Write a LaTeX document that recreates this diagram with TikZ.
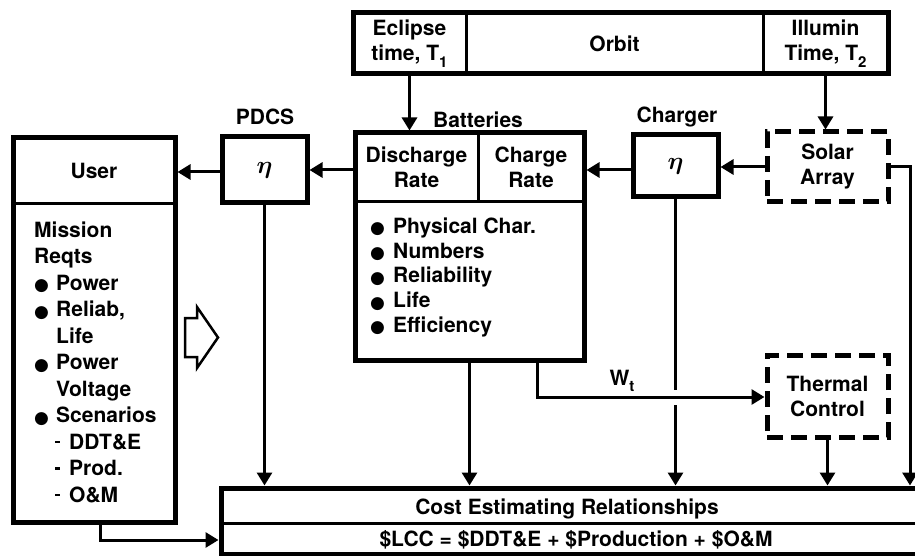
\documentclass[tikz,border=0pt]{standalone}
\usepackage{fontspec}
\setmainfont{TeX Gyre Heros}
\newfontfamily\symfont{DejaVu Sans}
\usetikzlibrary{arrows.meta,fit}
\newcommand\mysub[1]{\raisebox{-0.32em}{\fontsize{15}{15}\selectfont #1}}
\newcommand\mybul[1][22pt]{\makebox[#1][l]{\raisebox{-0.5pt}{\symfont\fontsize{17}{17}\selectfont ●}}}
\newcommand\mydash{\hspace*{21pt}\makebox[14pt][l]{\rule[6pt]{5pt}{2.5pt}}}
\newcommand\myind{\hspace*{22pt}}
\begin{document}
\begin{tikzpicture}[x=1pt,y=-1pt,
  every node/.style={font=\fontsize{21}{25}\selectfont\bfseries, inner sep=0pt},
  cellbox/.style={draw, line width=3pt, outer sep=0pt, align=center},
  framebox/.style={draw, line width=5pt, inner sep=0pt, align=center},
  dashbox/.style={draw, line width=5pt, dash pattern=on 16pt off 8pt, inner sep=0pt, align=center},
  conn/.style={line width=3pt, -{Triangle[length=13pt,width=15pt]}},
  plain/.style={line width=3pt},
  etafont/.style={font=\fontsize{24}{24}\selectfont\boldmath}
]
\useasboundingbox (0,0) rectangle (915,556);

% Orbit
\node[cellbox, minimum width=113pt, minimum height=61pt] (ecl) at (409.5,43.5) {Eclipse\\time, T\mysub{1}};
\node[cellbox, minimum width=297pt, minimum height=61pt] (orb) at (614.5,43.5) {Orbit};
\node[cellbox, minimum width=125pt, minimum height=61pt] (ill) at (825.5,43.5) {Illumin\\Time, T\mysub{2}};
\node[framebox, fit=(ecl)(ill)] (orbit) {};

% Batteries
\node (lbat) [anchor=base] at (478,128) {Batteries};
\node[cellbox, minimum width=123pt, minimum height=69pt] (dis) at (416.5,167.5) {Discharge\\Rate};
\node[cellbox, minimum width=106pt, minimum height=69pt] (chr) at (531,167.5) {Charge\\Rate};
\node[cellbox, minimum width=229pt, minimum height=158pt] (bbody) at (469.5,281) {};
\node[framebox, fit=(dis)(chr)(bbody)] (bat) {};
\node[anchor=north west, align=left, font=\fontsize{21}{24.75}\selectfont\bfseries] (btxt) at (370,217.5)
 {\mybul[23pt]Physical Char.\\\mybul[23pt]Numbers\\\mybul[23pt]Reliability\\\mybul[23pt]Life\\\mybul[23pt]Efficiency};

% User
\node[cellbox, minimum width=162pt, minimum height=66pt] (uhead) at (94,171) {User};
\node[cellbox, minimum width=162pt, minimum height=318pt] (ubody) at (94,363) {};
\node[framebox, fit=(uhead)(ubody)] (user) {};
\node[anchor=north west, align=left, font=\fontsize{21}{26.5}\selectfont\bfseries] (utxt) at (34,221.5)
 {Mission\\Reqts\\\mybul Power\\\mybul Reliab,\\\myind Life\\\mybul Power\\\myind Voltage\\\mybul Scenarios\\\mydash DDT\&E\\\mydash Prod.\\\mydash O\&M};

% PDCS
\node (lpdcs) [anchor=base] at (265,125) {PDCS};
\node[framebox, etafont, minimum width=85pt, minimum height=66pt] (pdcs) at (264.5,170) {$\eta$};

% Charger
\node (lchg) [anchor=base] at (677,123) {Charger};
\node[framebox, etafont, minimum width=85pt, minimum height=62pt] (chg) at (675.5,166) {$\eta$};

% Solar array and thermal control
\node[dashbox, minimum width=121pt, minimum height=70pt] (sol) at (827.5,167) {Solar\\Array};
\node[dashbox, minimum width=121pt, minimum height=82pt] (therm) at (827.5,396) {Thermal\\Control};

% Cost
\node[cellbox, minimum width=699pt, minimum height=35pt] (crow1) at (570.5,505.5) {};
\node[cellbox, minimum width=699pt, minimum height=31pt] (crow2) at (570.5,538.5) {};
\node[framebox, fit=(crow1)(crow2)] (cost) {};
\node (ct1) [anchor=base] at (567,514) {Cost Estimating Relationships};
\node (ct2) [anchor=base] at (576,546) {\$LCC = \$DDT\&E + \$Production + \$O\&M};

% Hollow arrow
\draw[line width=2.5pt, line join=miter] (185,318) -- (197,318) -- (197,307) -- (218,337.5) -- (197,368) -- (197,357) -- (185,357) -- cycle;

% Connectors
\draw[conn] (ecl.south) -- (ecl.south |- bat.north);
\draw[conn] (ill.south) -- (ill.south |- sol.north);
\draw[conn] (sol.west) -- (sol.west -| chg.east);
\draw[conn] (chg.west |- 0,170) -- (bat.east |- 0,170);
\draw[conn] (bat.west |- pdcs.east) -- (pdcs.east);
\draw[conn] (pdcs.west |- 0,172) -- (user.east |- 0,172);
\coordinate (rr) at (910,167);
\draw[conn] (sol.east) -- (rr) -- (rr |- cost.north);
\draw[conn] (pdcs.south) -- (pdcs.south |- cost.north);
\draw[conn] (bat.south) -- (bat.south |- cost.north);
\coordinate (gapA) at (675.5,390);
\coordinate (gapB) at (675.5,405);
\draw[plain] (chg.south) -- (gapA);
\draw[conn] (gapB) -- (gapB |- cost.north);
\coordinate (wtc) at (537,397);
\draw[conn] (bat.south -| wtc) -- (wtc) -- (wtc -| therm.west);
\node (wt) [anchor=base] at (622,385) {W\mysub{t}};
\draw[conn] (therm.south) -- (therm.south |- cost.north);
\coordinate (uc) at (100,540);
\draw[conn] (user.south -| uc) -- (uc) -- (uc -| cost.west);
\end{tikzpicture}
\end{document}
